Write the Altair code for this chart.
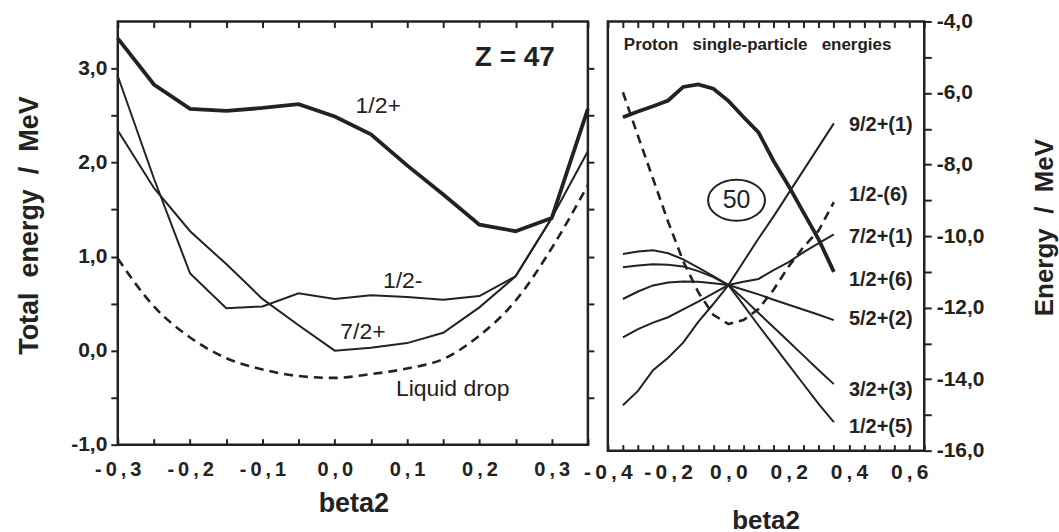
import altair as alt
import pandas as pd

# ---------------- data ----------------
# Left panel: total energy (MeV) versus beta2, Z = 47
beta_left = [-0.30, -0.25, -0.20, -0.15, -0.10, -0.05, 0.00, 0.05, 0.10, 0.15, 0.20, 0.25, 0.30, 0.35]
total_half_plus = [3.32, 2.83, 2.57, 2.55, 2.58, 2.62, 2.49, 2.30, 1.97, 1.66, 1.34, 1.27, 1.41, 2.57]
total_half_minus = [2.92, 1.83, 0.82, 0.45, 0.47, 0.61, 0.55, 0.59, 0.57, 0.54, 0.58, 0.79, 1.41, 2.57]
total_seven_half_plus = [2.34, 1.73, 1.27, 0.92, 0.55, 0.27, 0.00, 0.03, 0.08, 0.19, 0.46, 0.79, 1.41, 2.12]
liquid_drop = [0.98, 0.47, 0.14, -0.08, -0.20, -0.27, -0.29, -0.25, -0.19, -0.09, 0.16, 0.53, 1.09, 1.76]

# Right panel: proton single-particle energies (MeV) versus beta2
beta_right = [-0.35, -0.30, -0.25, -0.20, -0.15, -0.10, -0.05, 0.00, 0.05, 0.10, 0.15, 0.20, 0.25, 0.30, 0.35]
sp_92p_1 = [-14.73, -14.33, -13.75, -13.40, -12.98, -12.40, -11.90, -11.37, -10.72, -10.07, -9.45, -8.80, -8.15, -7.50, -6.85]
sp_12m_6 = [-5.98, -7.20, -8.40, -9.60, -10.70, -11.57, -12.20, -12.46, -12.35, -12.04, -11.50, -10.85, -10.30, -9.84, -9.05]
sp_72p_1 = [-12.83, -12.60, -12.42, -12.27, -12.05, -11.83, -11.60, -11.37, -11.28, -11.20, -10.95, -10.73, -10.45, -10.20, -9.95]
sp_12p_6 = [-6.68, -6.52, -6.37, -6.21, -5.83, -5.76, -5.88, -6.22, -6.67, -7.10, -7.90, -8.60, -9.35, -10.10, -11.00]
sp_52p_2 = [-11.76, -11.55, -11.38, -11.30, -11.27, -11.28, -11.32, -11.37, -11.50, -11.63, -11.78, -11.92, -12.06, -12.20, -12.35]
sp_32p_3 = [-10.87, -10.82, -10.79, -10.80, -10.85, -10.98, -11.15, -11.37, -11.75, -12.15, -12.55, -12.95, -13.35, -13.75, -14.14]
sp_12p_5 = [-10.50, -10.43, -10.40, -10.48, -10.65, -10.88, -11.12, -11.37, -11.93, -12.50, -13.05, -13.60, -14.15, -14.70, -15.20]

# Annotations (data coordinates)
left_labels = ["1/2+", "1/2-", "7/2+", "Liquid drop"]
left_label_beta = [0.060, 0.094, 0.039, 0.163]
left_label_e = [2.60, 0.74, 0.20, -0.41]
z_label = ["Z = 47"]
z_label_beta = [0.249]
z_label_e = [3.11]

level_labels = ["9/2+(1)", "1/2-(6)", "7/2+(1)", "1/2+(6)", "5/2+(2)", "3/2+(3)", "1/2+(5)"]
level_label_beta = [0.40, 0.40, 0.40, 0.40, 0.40, 0.40, 0.40]
level_label_e = [-6.90, -8.86, -10.03, -11.23, -12.32, -14.30, -15.34]
panel_title = ["Proton\u00a0\u00a0 single-particle\u00a0\u00a0 energies"]
panel_title_beta = [-0.347]
panel_title_e = [-4.67]
shell_label = ["50"]
shell_label_beta = [0.027]
shell_label_e = [-9.0]

# ---------------- styling ----------------
FONT = "Liberation Sans, Arial, Helvetica, sans-serif"
NARROW = "Liberation Sans Narrow, Liberation Sans, Arial, sans-serif"
INK = "#222222"
SP = "\u00a0\u00a0"
TICK = 6


def long_frame(beta, series):
    rows = []
    for name, vals in series.items():
        for b, e in zip(beta, vals):
            rows.append({"beta": b, "E": e, "level": name})
    return pd.DataFrame(rows)


def label_frame(texts, betas, energies):
    return pd.DataFrame({"label": texts, "beta": betas, "E": energies})


def num_expr(spaced):
    core = "replace(replace(format(datum.value, '.1f'), '.', ','), '\u2212', '-')"
    if spaced:
        core = "join(split(" + core + ", ''), '\u2009')"
    return core


def steps(start, n, step):
    return [round(start + step * i, 2) for i in range(n)]


def tick_axis(orient, vals, **kw):
    return alt.Axis(orient=orient, values=vals, labels=False, domain=False, grid=False,
                    tickSize=TICK, tickWidth=2, tickColor=INK, title=None, **kw)


def inward_x(orient, vals):
    # shift the tick group into the plot (translate moves x and y alike,
    # tickOffset moves the ticks back along the axis)
    if orient == "top":
        return tick_axis("top", vals, translate=TICK + 0.5, tickOffset=-TICK)
    return tick_axis("bottom", vals, translate=-TICK + 0.5, tickOffset=TICK)


# ---------------- left panel ----------------
xl = alt.Scale(domain=[-0.3, 0.35], nice=False, zero=False)
yl = alt.Scale(domain=[-1.0, 3.5], nice=False, zero=False)
xl_minor = steps(-0.3, 14, 0.05)

left_thin = long_frame(beta_left, {"1/2-": total_half_minus, "7/2+": total_seven_half_plus})
left_thick = long_frame(beta_left, {"1/2+": total_half_plus})
left_dash = long_frame(beta_left, {"Liquid drop": liquid_drop})

l_thin = alt.Chart(left_thin).mark_line(color=INK, strokeWidth=2).encode(
    x=alt.X("beta:Q", scale=xl, axis=alt.Axis(
        orient="bottom", values=[-0.3, -0.2, -0.1, 0.0, 0.1, 0.2, 0.3],
        labelExpr=num_expr(True), ticks=False, domain=False, grid=False,
        labelFont=FONT, labelFontWeight="bold", labelFontSize=20, labelColor=INK,
        labelPadding=15, labelFlush=False, labelOverlap=False, labelBound=False,
        title="beta2", titleFont=FONT, titleFontWeight="bold", titleFontSize=27,
        titleColor=INK, titleX=236, titleY=59, titleBaseline="middle", titleAlign="center")),
    y=alt.Y("E:Q", scale=yl, axis=alt.Axis(
        orient="left", values=steps(-1.0, 9, 0.5),
        labelExpr="abs(datum.value - round(datum.value)) < 0.001 ? " + num_expr(False) + " : ''",
        domain=False, grid=False, tickSize=7, tickWidth=2, tickColor=INK,
        labelFont=FONT, labelFontWeight="bold", labelFontSize=21, labelColor=INK,
        labelPadding=4, labelOverlap=False, labelFlush=False, labelBound=False,
        title="Total" + SP + "energy" + SP + "/" + SP + "MeV", titleFont=FONT,
        titleFontWeight="bold", titleFontSize=27,
        titleColor=INK, titleAngle=270, titleX=-88, titleY=204,
        titleBaseline="middle", titleAlign="center")),
    detail="level:N",
)

l_thick = alt.Chart(left_thick).mark_line(color=INK, strokeWidth=3.8).encode(
    x=alt.X("beta:Q", scale=xl, axis=inward_x("top", xl_minor)),
    y=alt.Y("E:Q", scale=yl, axis=tick_axis("right", steps(-0.5, 8, 0.5))),
)

l_dash = alt.Chart(left_dash).mark_line(
    color=INK, strokeWidth=2.6, strokeDash=[9, 6], interpolate="monotone").encode(
    x=alt.X("beta:Q", scale=xl, axis=inward_x("bottom", xl_minor)),
    y=alt.Y("E:Q", scale=yl, axis=None),
)

l_text = alt.Chart(label_frame(left_labels, left_label_beta, left_label_e)).mark_text(
    font=FONT, fontSize=23, color=INK, align="center", baseline="middle").encode(
    x=alt.X("beta:Q", scale=xl, axis=None),
    y=alt.Y("E:Q", scale=yl, axis=None),
    text="label:N",
)

l_z = alt.Chart(label_frame(z_label, z_label_beta, z_label_e)).mark_text(
    font=FONT, fontSize=28, fontWeight="bold", color=INK, align="center", baseline="middle").encode(
    x=alt.X("beta:Q", scale=xl, axis=None),
    y=alt.Y("E:Q", scale=yl, axis=None),
    text="label:N",
)

left = alt.layer(l_thin, l_thick, l_dash, l_text, l_z).resolve_axis(
    x="independent", y="independent").properties(width=471, height=424)

# ---------------- right panel ----------------
xr = alt.Scale(domain=[-0.4, 0.65], nice=False, zero=False)
yr = alt.Scale(domain=[-16.0, -4.0], nice=False, zero=False)
xr_minor = steps(-0.4, 22, 0.05)

right_thin = long_frame(beta_right, {
    "9/2+(1)": sp_92p_1, "7/2+(1)": sp_72p_1, "5/2+(2)": sp_52p_2,
    "3/2+(3)": sp_32p_3, "1/2+(5)": sp_12p_5})
right_thick = long_frame(beta_right, {"1/2+(6)": sp_12p_6})
right_dash = long_frame(beta_right, {"1/2-(6)": sp_12m_6})

r_thin = alt.Chart(right_thin).mark_line(color=INK, strokeWidth=2).encode(
    x=alt.X("beta:Q", scale=xr, axis=alt.Axis(
        orient="bottom", values=[-0.4, -0.2, 0.0, 0.2, 0.4, 0.6],
        labelExpr=num_expr(True), ticks=False, domain=False, grid=False,
        labelFont=FONT, labelFontWeight="bold", labelFontSize=21, labelColor=INK,
        labelPadding=11, labelFlush=False, labelOverlap=False, labelBound=False,
        title="beta2", titleFont=FONT, titleFontWeight="bold", titleFontSize=26,
        titleColor=INK, titleX=158, titleY=70, titleBaseline="middle", titleAlign="center")),
    y=alt.Y("E:Q", scale=yr, axis=alt.Axis(
        orient="right", values=steps(-16.0, 13, 1.0),
        labelExpr="datum.value % 2 == 0 ? " + num_expr(False) + " : ''",
        domain=False, grid=False, tickSize=7, tickWidth=2, tickColor=INK,
        labelFont=FONT, labelFontWeight="bold", labelFontSize=21, labelColor=INK,
        labelPadding=5, labelOverlap=False, labelFlush=False, labelBound=False,
        title="Energy" + SP + "/" + SP + "MeV", titleFont=FONT, titleFontWeight="bold",
        titleFontSize=26, titleColor=INK, titleAngle=270, titleX=120, titleY=206,
        titleBaseline="middle", titleAlign="center")),
    detail="level:N",
)

r_thick = alt.Chart(right_thick).mark_line(color=INK, strokeWidth=3.8).encode(
    x=alt.X("beta:Q", scale=xr, axis=inward_x("top", xr_minor)),
    y=alt.Y("E:Q", scale=yr, axis=None),
)

r_dash = alt.Chart(right_dash).mark_line(
    color=INK, strokeWidth=2.6, strokeDash=[9, 6]).encode(
    x=alt.X("beta:Q", scale=xr, axis=inward_x("bottom", xr_minor)),
    y=alt.Y("E:Q", scale=yr, axis=None),
)

r_levels = alt.Chart(label_frame(level_labels, level_label_beta, level_label_e)).mark_text(
    font=NARROW, fontSize=20, fontWeight="bold", color=INK, align="left", baseline="middle").encode(
    x=alt.X("beta:Q", scale=xr, axis=None),
    y=alt.Y("E:Q", scale=yr, axis=None),
    text="label:N",
)

r_title = alt.Chart(label_frame(panel_title, panel_title_beta, panel_title_e)).mark_text(
    font=NARROW, fontSize=17, fontWeight="bold", color=INK, align="left", baseline="middle").encode(
    x=alt.X("beta:Q", scale=xr, axis=None),
    y=alt.Y("E:Q", scale=yr, axis=None),
    text="label:N",
)

shell_df = label_frame(shell_label, shell_label_beta, shell_label_e)
r_ellipse = alt.Chart(shell_df).mark_point(
    shape="M -1 0 A 1 0.72 0 1 1 1 0 A 1 0.72 0 1 1 -1 0 Z",
    size=3249, filled=False, stroke=INK, strokeWidth=2, opacity=1).encode(
    x=alt.X("beta:Q", scale=xr, axis=None),
    y=alt.Y("E:Q", scale=yr, axis=None),
)
r_shell = alt.Chart(shell_df).mark_text(
    font=FONT, fontSize=25, color=INK, align="center", baseline="middle").encode(
    x=alt.X("beta:Q", scale=xr, axis=None),
    y=alt.Y("E:Q", scale=yr, axis=None),
    text="label:N",
)

right = alt.layer(r_thin, r_thick, r_dash, r_levels, r_title, r_ellipse, r_shell).resolve_axis(
    x="independent", y="independent").properties(width=317, height=430)

chart = alt.hconcat(left, right, spacing=20, bounds="flush").properties(
    padding={"left": 14, "top": 8, "right": 0, "bottom": 0},
    background="white",
).configure_view(stroke=INK, strokeWidth=2.5)

chart.save("out.html", embed_options={"renderer": "svg", "actions": False})
